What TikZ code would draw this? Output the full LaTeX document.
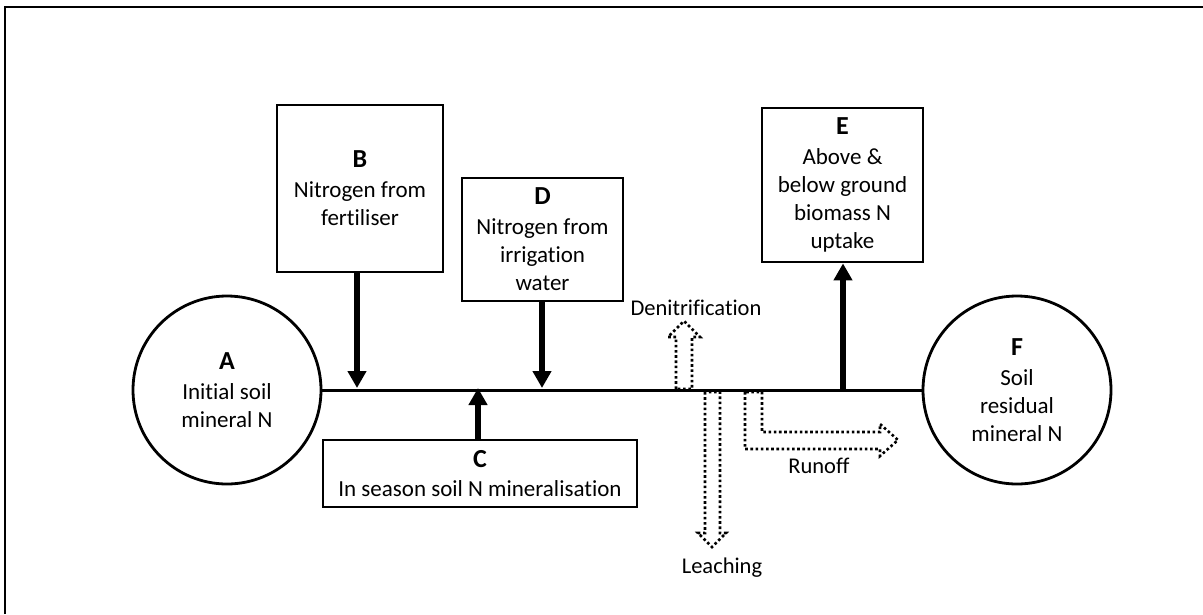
\documentclass[tikz,border=0pt]{standalone}
\usepackage{fontspec}
\setmainfont{Carlito}[Ligatures={NoCommon}]
\usetikzlibrary{arrows.meta}
\newcommand\boxletter[1]{{\fontsize{26}{30}\selectfont\bfseries #1}}
\begin{document}
\begin{tikzpicture}[x=1pt,y=-1pt,
  box/.style={draw,line width=2.8pt,rectangle,inner sep=0pt,align=center,font=\fontsize{23}{28}\selectfont},
  pool/.style={draw,line width=2.8pt,circle,inner sep=0pt,minimum size=188pt,align=center,font=\fontsize{23}{28}\selectfont},
  flow/.style={line width=6pt,-{Triangle[width=18pt,length=17pt]}},
  loss/.style={line width=2.6pt,dash pattern=on 2.6pt off 2.6pt},
  lab/.style={font=\fontsize{22.5}{26}\selectfont,inner sep=0pt,anchor=base},
]
\useasboundingbox (0,0) rectangle (1203,614);
% frame
\draw[line width=2pt] (4.5,614) -- (4.5,6.5) -- (1203,6.5);

% pools
\node[pool] (A) at (227,390) {\boxletter{A}\\[2pt]Initial soil\\mineral N};
\node[pool] (F) at (1017,390) {\boxletter{F}\\[2pt]Soil\\residual\\mineral N};

% boxes
\node[box,minimum width=166pt,minimum height=167pt] (B) at (360,188.5) {\boxletter{B}\\[2pt]Nitrogen from\\fertiliser};
\node[box,minimum width=161pt,minimum height=123pt] (D) at (542.5,239.5) {\boxletter{D}\\[2pt]Nitrogen from\\irrigation\\water};
\node[box,minimum width=161pt,minimum height=154pt] (E) at (842.5,185) {\boxletter{E}\\[2pt]Above \&\\below ground\\biomass N\\uptake};
\node[box,minimum width=314pt,minimum height=67pt] (C) at (480,473.5) {\boxletter{C}\\[1pt]In season soil N mineralisation};

% main line
\draw[line width=3pt] (A.east) -- (F.west);

% points on the main line
\coordinate (pB) at (357,388);
\coordinate (pD) at (542,388);
\coordinate (pC) at (478,388);
\coordinate (pE) at (843,391);

\draw[flow] (B.south -| pB) -- (pB);
\draw[flow] (D.south -| pD) -- (pD);
\draw[flow] (C.north -| pC) -- (pC);
\draw[flow] (pE) -- (E.south -| pE);

% loss arrows (hollow, dotted)
\draw[loss] (676,389) -- (676,337) -- (668,337) -- (684,321) -- (700,337) -- (692,337) -- (692,389) -- cycle;
\draw[loss] (705,392) -- (705,533) -- (698,533) -- (712,547) -- (726,533) -- (720,533) -- (720,392) -- cycle;
\draw[loss] (745,392) -- (745,449) -- (880,449) -- (880,456) -- (898,440) -- (880,424) -- (880,432) -- (762,432) -- (762,392) -- cycle;

% loss labels
\node[lab] (den) at (696,315) {Denitrification};
\node[lab] (lea) at (722,573) {Leaching};
\node[lab] (run) at (819,473) {Runoff};
\end{tikzpicture}
\end{document}
